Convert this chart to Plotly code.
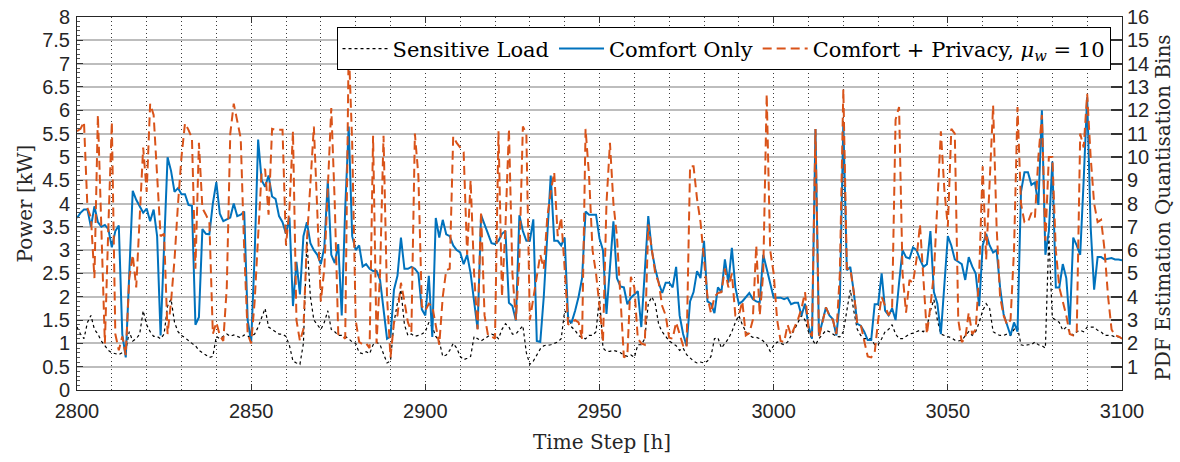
import plotly.graph_objects as go

hours = list(range(2800, 3101))

comfort_only = [
    3.69,3.8,3.87,3.87,3.5,3.94,3.6,3.5,3.54,3.45,
    3.06,3.41,3.53,1.2,0.7,2.4,4.27,4.08,3.95,3.8,
    3.89,3.62,3.87,3.3,1.17,3.0,4.99,4.7,4.25,4.33,
    4.2,4.2,3.97,3.95,1.4,1.56,3.45,3.35,3.34,4.0,
    4.46,3.78,3.62,3.66,3.7,4.0,3.73,3.76,3.83,1.5,
    1.03,2.9,5.37,4.5,4.36,4.6,4.15,4.1,3.73,3.6,
    3.35,3.7,1.8,2.75,2.05,3.3,3.6,3.15,3.0,2.9,
    2.7,3.06,4.5,2.9,2.72,3.13,1.6,3.9,5.65,3.3,
    3.0,3.1,2.65,2.7,2.6,2.55,2.55,2.36,1.66,1.1,
    1.15,2.15,2.45,3.27,2.6,2.6,2.64,2.6,2.5,1.73,
    1.6,2.45,1.14,3.69,3.27,3.65,3.34,3.3,3.1,3.0,
    2.95,2.7,2.9,2.5,1.9,1.31,3.75,3.55,3.35,3.15,
    3.13,3.2,3.35,3.41,1.87,1.8,1.49,3.75,3.41,3.2,
    3.2,3.66,1.05,1.03,2.0,3.4,4.6,3.2,3.2,3.1,
    3.27,1.5,1.45,1.7,2.0,2.4,3.83,3.76,3.76,3.76,
    3.25,3.0,1.63,2.7,3.62,2.4,2.22,2.2,1.84,1.98,
    2.05,2.12,1.35,2.5,3.73,3.0,2.6,2.3,2.08,2.3,
    2.3,2.2,2.64,1.6,1.2,0.95,1.9,2.1,2.55,2.4,
    3.2,1.9,1.85,1.65,2.2,2.1,2.8,2.3,3.05,2.2,
    1.85,1.9,2.0,2.08,1.95,1.9,1.88,2.9,2.6,2.3,
    1.98,1.98,1.98,1.95,1.98,1.84,1.87,1.87,1.6,1.85,
    1.38,1.1,5.6,1.17,1.5,1.77,1.6,1.52,1.17,1.9,
    5.75,2.57,2.64,2.1,1.42,1.38,1.25,1.07,1.07,1.84,
    1.84,2.5,1.7,1.6,1.75,1.5,2.3,3.0,2.85,2.82,
    3.06,3.0,2.8,2.64,2.7,3.41,2.1,1.85,1.2,2.2,
    3.3,3.1,2.8,2.75,2.7,2.36,2.85,2.65,2.5,1.8,
    3.1,3.35,3.1,2.95,3.0,2.2,1.63,1.4,1.17,1.45,
    1.25,4.25,4.67,4.67,4.4,4.45,3.97,6.0,2.9,3.4,
    4.9,2.2,2.2,2.7,2.4,1.4,3.27,3.1,2.9,4.5,
    6.28,3.5,2.15,2.85,2.85,2.8,2.82,2.83,2.8,2.8,
    2.78,
]

comfort_privacy = [
    5.55,5.6,5.75,3.9,3.7,2.4,5.9,3.5,1.0,3.5,
    5.75,1.2,0.85,1.15,0.75,2.4,2.9,2.2,3.8,5.2,
    4.25,6.14,5.9,4.6,3.3,3.35,1.2,1.9,2.8,4.0,
    5.0,5.72,5.58,5.4,2.6,5.3,3.9,3.76,3.6,1.2,
    1.45,1.17,1.05,2.2,5.5,6.14,5.75,5.4,3.0,1.2,
    1.0,1.9,3.3,4.67,4.74,3.76,5.6,5.58,5.58,5.58,
    3.1,3.9,5.55,1.5,1.05,1.3,3.2,4.5,5.65,3.8,
    1.9,2.6,4.5,6.05,4.0,1.2,1.17,1.1,7.4,5.3,
    1.5,1.03,0.98,1.0,0.9,5.45,1.0,2.5,5.45,2.0,
    0.7,1.45,1.6,2.3,1.9,1.45,1.25,5.5,4.6,1.8,
    1.7,1.85,1.8,1.4,0.97,2.0,2.57,2.6,5.44,5.3,
    5.2,5.1,2.9,4.5,2.5,1.3,3.83,1.6,1.17,1.15,
    1.1,5.55,2.0,3.5,5.6,2.5,1.5,2.8,5.65,5.5,
    1.5,2.0,2.5,2.9,2.6,3.7,4.25,4.67,3.3,3.7,
    2.6,1.4,1.45,1.5,1.45,1.1,5.6,4.6,3.0,2.5,
    1.8,1.03,4.0,5.3,4.0,3.3,2.0,0.7,0.75,2.43,
    2.2,1.1,1.0,0.97,3.55,3.0,2.5,2.3,1.8,1.6,
    1.12,1.1,1.45,1.2,0.95,0.9,4.8,4.8,4.1,3.6,
    2.8,2.0,1.65,2.0,2.08,2.1,2.6,2.2,2.5,1.6,
    1.6,1.9,1.17,1.22,1.5,3.1,1.6,2.5,6.35,3.0,
    2.5,1.5,1.05,1.03,1.4,1.17,1.35,1.52,1.75,2.1,
    1.3,1.15,5.6,1.14,1.45,1.77,1.6,1.5,1.2,2.5,
    6.45,2.6,2.6,2.1,1.42,1.4,1.05,0.72,0.7,0.8,
    1.5,2.0,1.8,1.6,1.75,5.8,6.07,2.5,1.66,2.36,
    2.3,2.8,3.55,2.3,1.2,1.8,2.5,4.0,5.55,4.3,
    3.5,5.6,5.5,1.5,1.03,1.1,1.66,1.2,1.3,2.5,
    4.8,2.8,4.5,6.1,3.5,2.0,1.6,1.4,1.5,3.0,
    6.07,4.0,3.6,3.6,3.8,3.7,5.0,5.9,3.2,5.0,
    5.0,3.0,2.2,1.9,1.6,1.2,1.17,1.2,5.5,5.2,
    6.35,5.0,4.0,3.6,3.65,3.0,2.0,1.3,1.17,1.15,
    1.1,
]

sensitive_load = [
    1.35,1.2,1.1,1.45,1.6,1.3,1.2,1.05,0.95,0.85,
    0.8,0.78,0.76,0.8,0.85,1.25,1.05,1.1,1.2,1.7,
    1.4,1.25,1.15,1.15,1.1,1.2,1.8,1.95,1.45,1.25,
    1.17,1.12,1.05,1.0,0.95,0.85,0.8,0.75,0.7,0.72,
    1.15,1.1,1.15,1.2,1.15,1.18,1.15,1.12,1.18,1.15,
    1.15,1.2,1.35,1.55,1.75,1.35,1.3,1.25,1.2,1.2,
    1.15,0.95,0.62,0.58,0.55,1.0,3.2,2.0,1.5,1.4,
    1.3,1.45,1.7,1.3,1.25,1.17,1.17,1.15,1.1,1.03,
    1.0,0.8,0.78,0.82,0.78,0.97,1.03,0.97,0.76,0.58,
    0.62,1.45,1.87,2.15,1.4,1.17,1.2,1.15,1.17,1.2,
    1.25,1.45,1.35,1.15,1.05,0.72,0.75,0.85,1.0,0.9,
    0.72,0.65,0.68,0.72,1.15,1.1,1.05,1.1,1.15,1.2,
    1.17,1.1,1.3,1.42,1.35,1.2,1.2,1.3,1.38,0.8,
    0.55,0.62,0.75,0.88,0.95,0.96,0.97,1.0,1.03,1.1,
    1.7,1.6,1.35,1.28,1.17,1.12,1.1,1.17,1.17,1.25,
    2.0,0.9,0.83,0.83,0.85,0.83,0.8,0.75,0.72,0.75,
    0.7,0.97,0.97,1.1,1.85,2.0,1.85,1.4,1.25,1.15,
    1.05,1.0,0.95,0.85,0.9,0.76,0.68,0.62,0.58,0.6,
    0.58,0.62,0.72,1.1,1.12,0.9,1.0,1.1,1.25,1.45,
    1.6,1.4,1.25,1.17,1.13,1.13,1.1,1.05,0.97,0.83,
    0.95,1.03,1.0,0.97,1.03,1.15,1.3,1.45,1.6,1.5,
    1.25,1.1,0.97,1.1,1.2,1.28,1.25,1.2,1.15,1.14,
    1.25,1.7,2.15,1.7,1.3,1.17,1.1,1.1,1.1,0.97,
    0.97,1.1,1.25,1.3,1.4,1.2,1.1,1.1,1.15,1.2,
    1.22,1.25,1.28,1.25,1.35,1.7,1.94,1.5,1.2,1.17,
    1.15,1.12,1.07,1.05,1.07,1.15,1.25,1.17,1.25,1.45,
    1.7,1.85,1.75,1.25,1.2,1.17,1.17,1.2,1.17,1.3,
    1.35,0.97,0.95,0.97,0.97,1.03,0.97,0.95,0.9,3.3,
    1.55,1.5,1.45,1.28,1.35,1.25,1.17,1.25,1.28,1.25,
    1.35,1.35,1.35,1.28,1.25,1.17,1.17,1.17,1.14,1.14,
    1.14,
]

left_ticks = [i * 0.5 for i in range(17)]
left_labels = ["0", "0.5", "1", "1.5", "2", "2.5", "3", "3.5", "4", "4.5",
               "5", "5.5", "6", "6.5", "7", "7.5", "8"]
right_ticks = list(range(1, 17))
x_ticks = [2800, 2850, 2900, 2950, 3000, 3050, 3100]

x_title = "Time Step [h]"
left_title = "Power [kW]"
right_title = "PDF Estimation Quantisation Bins"

SERIF = "DejaVu Serif, Liberation Serif, serif"
SANS = "Liberation Sans, Arial, sans-serif"
TXT = "#262626"

fig = go.Figure()
fig.add_trace(go.Scatter(x=hours, y=sensitive_load, mode="lines", name="Sensitive Load",
                         line=dict(color="#000000", width=1.2, dash="dot")))
fig.add_trace(go.Scatter(x=hours, y=comfort_only, mode="lines", name="Comfort Only",
                         line=dict(color="#0072BD", width=2)))
fig.add_trace(go.Scatter(x=hours, y=comfort_privacy, mode="lines",
                         name="Comfort + Privacy, <i>μ</i><sub><i>w</i></sub> = 10",
                         line=dict(color="#D95319", width=2, dash="9px,5px")))
# invisible trace to activate right axis
fig.add_trace(go.Scatter(x=[2800], y=[0], yaxis="y2", mode="markers",
                         marker=dict(opacity=0), showlegend=False, hoverinfo="skip"))

grid_dot = "1px,3px"

fig.update_layout(
    width=1180, height=462,
    margin=dict(l=77, r=58, t=17, b=72, autoexpand=False),
    paper_bgcolor="white", plot_bgcolor="white",
    showlegend=True,
    legend=dict(orientation="h", x=0.989, y=0.972, xanchor="right", yanchor="top",
                bgcolor="white", bordercolor="#000000", borderwidth=1,
                font=dict(family=SERIF, size=21, color="#000"),
                itemwidth=45, tracegroupgap=0),
    xaxis=dict(range=[2800, 3100], tickvals=x_ticks, ticks="inside", ticklen=6,
               tickcolor="#333", showline=True, linecolor=TXT, linewidth=1,
               mirror="ticks", showgrid=True, gridcolor="#3a3a3a", griddash=grid_dot,
               gridwidth=1,
               minor=dict(dtick=10, showgrid=True, gridcolor="#3a3a3a", griddash=grid_dot,
                          gridwidth=1, ticks=""),
               tickfont=dict(family=SANS, size=20, color=TXT),
               ticklabelstandoff=3, automargin=False, zeroline=False),
    yaxis=dict(range=[0, 8], tickvals=left_ticks, ticktext=left_labels, ticks="inside",
               ticklen=6, tickcolor="#333", showline=True, linecolor=TXT, linewidth=1,
               showgrid=True, gridcolor="#BDBDBD", gridwidth=1.5,
               minor=dict(dtick=0.1, ticks="inside", ticklen=3, tickcolor="#555", showgrid=False),
               tickfont=dict(family=SANS, size=20, color=TXT),
               ticklabelstandoff=2, automargin=False, zeroline=False),
    yaxis2=dict(range=[0, 16], overlaying="y", side="right", tickvals=right_ticks,
                ticks="inside", ticklen=11, tickcolor="#333", tickwidth=1.5,
                showline=True, linecolor=TXT, linewidth=1, showgrid=False,
                tickfont=dict(family=SANS, size=20, color=TXT),
                automargin=False, zeroline=False),
    annotations=[
        dict(text=x_title, xref="paper", yref="paper", x=0.502, y=-0.139,
             xanchor="center", yanchor="middle", showarrow=False,
             font=dict(family=SERIF, size=20, color=TXT)),
        dict(text=left_title, xref="paper", yref="paper", x=-0.0507, y=0.5,
             xanchor="center", yanchor="middle", showarrow=False, textangle=-90,
             font=dict(family=SERIF, size=20, color=TXT)),
        dict(text=right_title, xref="paper", yref="paper", x=1.0397, y=0.49,
             xanchor="center", yanchor="middle", showarrow=False, textangle=-90,
             font=dict(family=SERIF, size=20, color=TXT)),
    ],
)

# remove the default page margin so the figure fills the window exactly
fig.write_html("out.html", config={"displayModeBar": False},
               post_script="document.body.style.margin='0';")
